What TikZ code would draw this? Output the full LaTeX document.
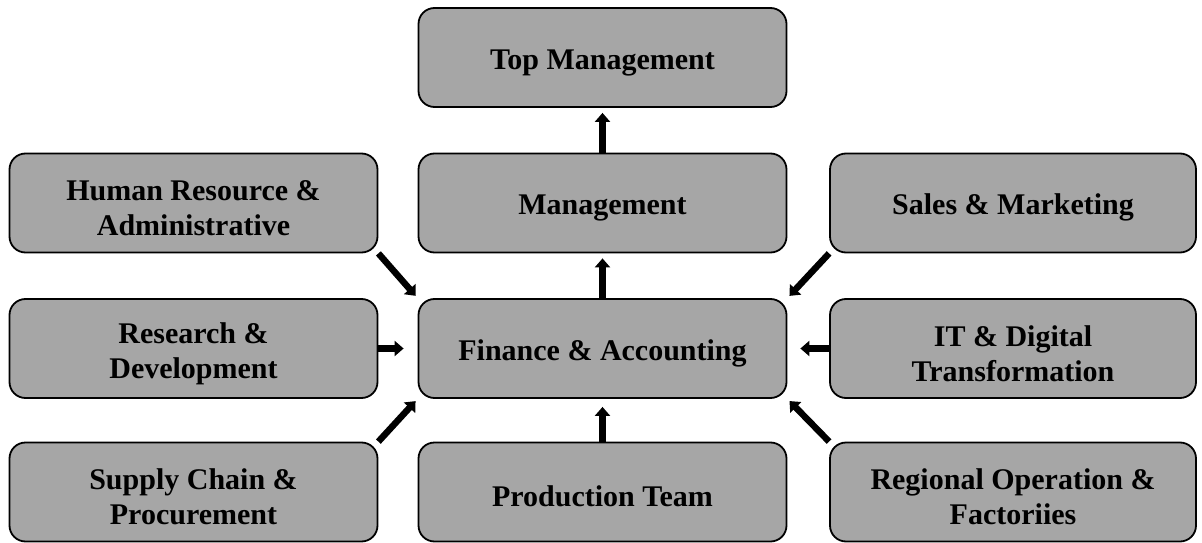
\documentclass[tikz,border=0pt]{standalone}
\usepackage{fontspec}
\setmainfont{Liberation Serif}
\usepackage{tikz}
\usetikzlibrary{positioning}
\usetikzlibrary{arrows.meta}
\definecolor{boxgray}{rgb}{.65,.65,.65}
\newcommand{\hoch}{\rule{0pt}{31pt}}   % erste Zeile tiefer setzen

\begin{document}
\begin{tikzpicture}[
x=1pt, y=1pt,
font=\fontsize{30}{35}\selectfont\bfseries,
>={Triangle[length=9pt,width=15pt]},   % Pfeilspitzen
box/.style={draw=black, line width=1.8pt, fill=boxgray, rounded corners=16pt,
  minimum width=368pt, minimum height=99pt, align=center, inner sep=0pt,
  execute at begin node={\rule{0pt}{30pt}}},
pfeil/.style={->, line width=6.5pt}
]

\def\xl{193.5}
\def\xm{602.5}
\def\xr{1013}

% Rahmen
\useasboundingbox (0,0) rectangle (1202,542);

% Mitte
\node[box] (top)  at (\xm,484.5) {Top Management};
\node[box] (mgmt) at (\xm,339) {Management};
\node[box] (fin)  at (\xm,193.5) {Finance \& Accounting};
\node[box] (prod) at (\xm,50) {Production Team};

% links
\node[box] (hr)  at (\xl,339) {\hoch Human Resource \&\\Administrative};
\node[box] (rd)  at (\xl,193.5) {\hoch Research \&\\Development};
\node[box] (scm) at (\xl,50) {\hoch Supply Chain \&\\Procurement};

% rechts
\node[box, minimum width=366pt] (sales) at (\xr,339) {Sales \& Marketing};
\node[box, minimum width=366pt] (it)    at (\xr,193.5) {\hoch IT \& Digital\\Transformation};
\node[box, minimum width=366pt] (reg)   at (\xr,50) {\hoch Regional Operation \&\\Factoriies};

% Pfeile
\draw[pfeil, shorten >=5pt]  (mgmt) -- (top);
\draw[pfeil, shorten >=5pt]  (fin) -- (mgmt);
\draw[pfeil, shorten >=8pt]  (prod) -- (fin);
\draw[pfeil, shorten >=14pt] (rd) -- (fin);
\draw[pfeil, shorten >=13pt] (it) -- (fin);
\draw[pfeil, shorten >=3pt] (hr.south east) -- (fin.north west);
\draw[pfeil, shorten >=3pt] (sales.south west) -- (fin.north east);
\draw[pfeil, shorten >=3pt] (scm.north east) -- (fin.south west);
\draw[pfeil, shorten >=3pt] (reg.north west) -- (fin.south east);

\end{tikzpicture}
\end{document}
